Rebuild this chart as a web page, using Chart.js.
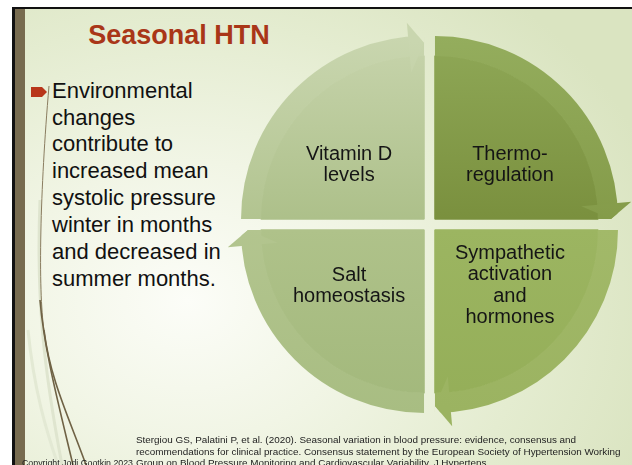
<!DOCTYPE html>
<html>
<head>
<meta charset="utf-8">
<script src="https://cdn.jsdelivr.net/npm/chart.js@4/dist/chart.umd.min.js"></script>
<style>
  html, body { margin:0; padding:0; width:632px; height:465px; overflow:hidden; background:#fff;
    font-family:"Liberation Sans", Arial, Helvetica, sans-serif; }
  #slide { position:absolute; left:12px; top:7px; width:617px; height:470px;
    border-left:3px solid #111; border-top:2px solid #111; border-right:2px solid #111;
    background: radial-gradient(ellipse 80% 85% at 28% 62%, #fcfdf8 0%, #f1f5e5 35%, #e4ecd0 70%, #dae4c1 100%); }
  #bar { position:absolute; left:15px; top:9px; width:10px; height:470px; background:#776b4f; }
  #deco { position:absolute; left:0; top:0; }
  #title { position:absolute; left:59px; top:19px; width:240px; text-align:center;
    font-weight:bold; font-size:27px; line-height:32px; color:#a93618; white-space:nowrap; }
  #bullet { position:absolute; left:52px; top:77.6px; font-size:22px; line-height:26.9px; color:#111; white-space:nowrap; }
  #arrowIcon { position:absolute; left:31px; top:87px; }
  #chartCanvas { position:absolute; left:0; top:0; }
  .qlabel { position:absolute; transform:translate(-50%,-50%); text-align:center; font-size:20px;
    line-height:21.3px; color:#151515; white-space:nowrap; }
  .foot { position:absolute; font-size:9.9px; line-height:11.5px; color:#222; white-space:nowrap; }
</style>
</head>
<body>
<div id="slide"></div>
<div id="bar"></div>
<svg id="deco" width="632" height="465">
  <path d="M40,200 C36,300 44,370 62,465" stroke="#dfe5cf" stroke-width="3" fill="none"/>
  <path d="M28,330 C34,390 46,430 58,465" stroke="#e3e9d4" stroke-width="3" fill="none"/>
  <path d="M49,86 C40,190 38,290 44,330" stroke="#8a7d60" stroke-width="1" fill="none"/>
  <path d="M44,330 C50,380 70,420 86,465" stroke="#6f6245" stroke-width="1.6" fill="none"/>
  <path d="M40,300 C44,350 60,410 73,465" stroke="#6f6245" stroke-width="1.6" fill="none"/>
</svg>
<svg id="arrowIcon" width="16" height="10"><path d="M0,0 H11 L16,5 L11,10 H0 Z" fill="#b8361a"/></svg>
<div id="title">Seasonal HTN</div>
<div id="bullet">Environmental<br>changes<br>contribute to<br>increased mean<br>systolic pressure<br>winter in months<br>and decreased in<br>summer months.</div>
<canvas id="chartCanvas" width="632" height="465"></canvas>
<div id="labels"></div>
<div class="foot" style="left:136px; top:434px;">Stergiou GS, Palatini P, et al. (2020). Seasonal variation in blood pressure: evidence, consensus and</div>
<div class="foot" style="left:136px; top:445.5px;">recommendations for clinical practice. Consensus statement by the European Society of Hypertension Working</div>
<div class="foot" style="left:136px; top:457px;">Group on Blood Pressure Monitoring and Cardiovascular Variability. J Hypertens.</div>
<div class="foot" style="left:22px; top:457.5px; font-size:8.8px;">Copyright Jodi Gootkin 2023</div>

<script>
// ---- data ----
const categories = [
  ['Vitamin D', 'levels'],
  ['Thermo-', 'regulation'],
  ['Sympathetic', 'activation', 'and', 'hormones'],
  ['Salt', 'homeostasis']
];
const shares = [1, 1, 1, 1];          // four equal quadrants
const arrowShares = [1, 1, 1, 1];     // circular-arrow band, one per quadrant

// ---- styles ----
const innerTop    = ['#c7d4ac', '#8fa857', '#9cb561', '#afc28a'];
const innerBottom = ['#adc08a', '#7a903e', '#94ae58', '#a2b87b'];
const bandTop     = ['#c9d6af', '#94ad5d', '#a2b969', '#b3c58f'];
const bandBottom  = ['#b2c490', '#849b49', '#9bb361', '#a8bd82'];
const RADIUS = 183;

function makeGradient(tops, bottoms) {
  return function (ctx) {
    const chart = ctx.chart;
    const area = chart.chartArea;
    const i = ctx.dataIndex;
    if (!area) return tops[i];
    const cy = (area.top + area.bottom) / 2;
    const top = (i === 0 || i === 1);
    const g = chart.ctx.createLinearGradient(0, top ? cy - RADIUS : cy, 0, top ? cy : cy + RADIUS);
    g.addColorStop(0, tops[i]);
    g.addColorStop(1, bottoms[i]);
    return g;
  };
}
const innerGradient = makeGradient(innerTop, innerBottom);
const bandGradient = makeGradient(bandTop, bandBottom);

const arrowPlugin = {
  id: 'arrowHeads',
  afterDatasetsDraw(chart) {
    const ctx = chart.ctx;
    const band = chart.getDatasetMeta(0);
    band.data.forEach((arc, i) => {
      const p = arc.getProps(['x', 'y', 'startAngle', 'endAngle', 'outerRadius'], true);
      const off = (arc.options.offset || 0) / 4;
      const mid = (p.startAngle + p.endAngle) / 2;
      const cx = p.x + Math.cos(mid) * off, cy = p.y + Math.sin(mid) * off;
      const R = p.outerRadius;
      const back = p.endAngle - 5 * Math.PI / 180;
      const P = (a, r) => [cx + Math.cos(a) * r, cy + Math.sin(a) * r];
      const outer = P(back, R + 14), tip = P(p.endAngle, R - 7), inner = P(back, R - 36);
      const far1 = P(p.endAngle, R + 40), far2 = P(back, R + 40);
      ctx.save();
      ctx.globalCompositeOperation = 'destination-out';
      ctx.beginPath();
      ctx.moveTo(...outer); ctx.lineTo(...tip); ctx.lineTo(...far1); ctx.lineTo(...far2);
      ctx.closePath(); ctx.fill();
      ctx.restore();
      ctx.save();
      ctx.fillStyle = arc.options.backgroundColor;
      ctx.beginPath();
      ctx.moveTo(...inner); ctx.lineTo(...outer); ctx.lineTo(...tip);
      ctx.closePath(); ctx.fill();
      ctx.restore();
    });
  },
  afterDraw(chart) {
    const holder = document.getElementById('labels');
    const canvas = chart.canvas;
    const meta = chart.getDatasetMeta(0);
    holder.innerHTML = '';
    meta.data.forEach((arc, i) => {
      const p = arc.getProps(['x', 'y', 'startAngle', 'endAngle'], true);
      const off = (arc.options.offset || 0) / 4;
      const mid = (p.startAngle + p.endAngle) / 2;
      const cx = p.x + Math.cos(mid) * off, cy = p.y + Math.sin(mid) * off;
      const div = document.createElement('div');
      div.className = 'qlabel';
      div.innerHTML = chart.data.labels[i].join('<br>');
      div.style.left = (canvas.offsetLeft + cx + Math.cos(mid) * 106) + 'px';
      div.style.top = (canvas.offsetTop + cy + Math.sin(mid) * 78) + 'px';
      holder.appendChild(div);
    });
  }
};

new Chart(document.getElementById('chartCanvas'), {
  type: 'pie',
  data: {
    labels: categories,
    datasets: [
      { data: arrowShares, backgroundColor: bandGradient, borderWidth: 0, offset: 31, weight: 20 },
      { data: shares, backgroundColor: innerGradient, borderColor: innerGradient, borderWidth: 1.5, offset: 31, weight: 163 }
    ]
  },
  options: {
    responsive: false,
    animation: false,
    events: [],
    radius: RADIUS,
    rotation: -90,
    layout: { padding: { left: 227, right: 0, top: 0, bottom: 16 } },
    plugins: { legend: { display: false }, tooltip: { enabled: false } }
  },
  plugins: [arrowPlugin]
});
</script>
</body>
</html>
